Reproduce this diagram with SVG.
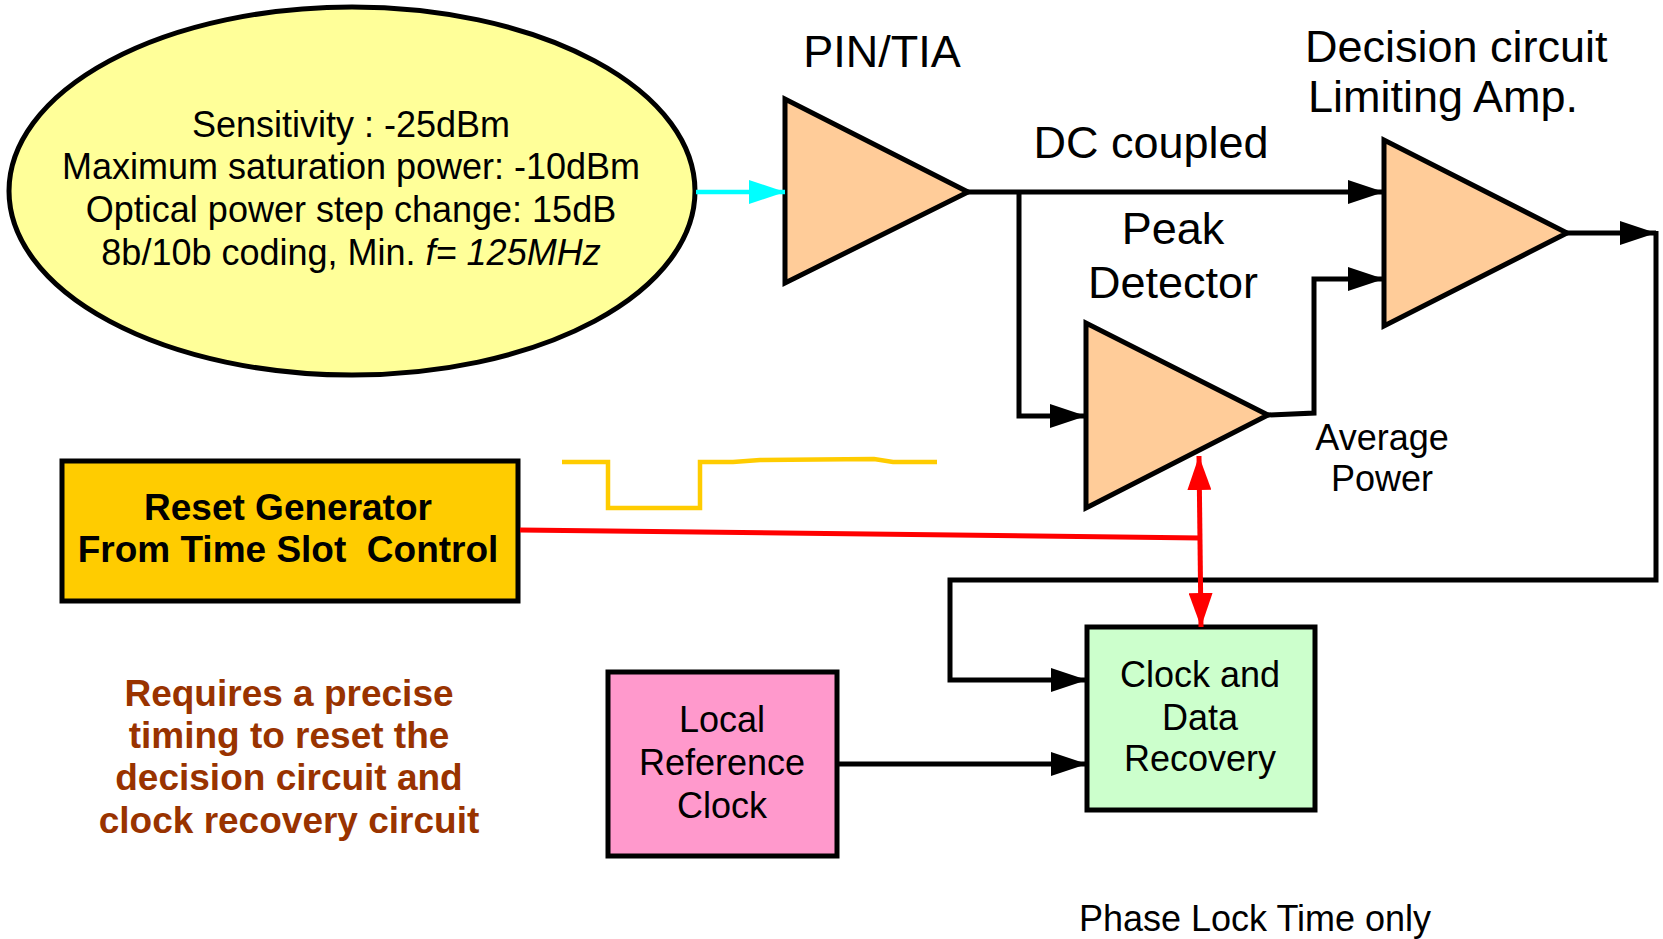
<svg xmlns="http://www.w3.org/2000/svg" width="1663" height="939" viewBox="0 0 1663 939">
<style>
text{font-family:"Liberation Sans",Arial,sans-serif;fill:#000}
.big{font-size:45px}
.mid{font-size:36px}
.bold{font-weight:bold;font-size:37px}
.brown{fill:#993300}
.amp{fill:#FFCC99;stroke:#000;stroke-width:5;stroke-linejoin:miter}
.box{stroke:#000;stroke-width:5}
.wire{fill:none;stroke:#000;stroke-width:5}
.red{fill:none;stroke:#FF0000;stroke-width:5}
</style>
<defs>
<marker id="ah" markerUnits="userSpaceOnUse" markerWidth="36" markerHeight="24" refX="36" refY="12" orient="auto">
<path d="M0,0 L36,12 L0,24 z" fill="#000"/>
</marker>
<marker id="ahc" markerUnits="userSpaceOnUse" markerWidth="36" markerHeight="24" refX="36" refY="12" orient="auto">
<path d="M0,0 L36,12 L0,24 z" fill="#00FFFF"/>
</marker>
<marker id="ahr" markerUnits="userSpaceOnUse" markerWidth="34" markerHeight="24" refX="34" refY="12" orient="auto">
<path d="M0,0 L34,12 L0,24 z" fill="#FF0000"/>
</marker>
<marker id="ahrs" markerUnits="userSpaceOnUse" markerWidth="34" markerHeight="24" refX="0" refY="12" orient="auto">
<path d="M34,0 L0,12 L34,24 z" fill="#FF0000"/>
</marker>
</defs>

<g id="specs">
<ellipse cx="352" cy="191" rx="343" ry="184" fill="#FFFF99" stroke="#000" stroke-width="5"/>
<text class="mid" x="351" y="137" text-anchor="middle">Sensitivity : -25dBm</text>
<text class="mid" x="351" y="179" text-anchor="middle">Maximum saturation power: -10dBm</text>
<text class="mid" x="351" y="222" text-anchor="middle">Optical power step change: 15dB</text>
<text class="mid" x="351" y="265" text-anchor="middle">8b/10b coding, Min. <tspan font-style="italic">f= 125MHz</tspan></text>
</g>

<g id="pin-tia">
<polygon class="amp" points="785,99 785,283 968,192"/>
<text class="big" x="882" y="67" text-anchor="middle">PIN/TIA</text>
</g>

<g id="decision">
<polygon class="amp" points="1384,140 1384,326 1567,233"/>
<text class="big" x="1305" y="62">Decision circuit</text>
<text class="big" x="1308" y="112">Limiting Amp.</text>
</g>

<g id="peak-detector">
<polygon class="amp" points="1086,323 1086,508 1268,415"/>
<text class="big" x="1173" y="244" text-anchor="middle">Peak</text>
<text class="big" x="1173" y="298" text-anchor="middle">Detector</text>
</g>

<g id="reset">
<rect class="box" x="62" y="461" width="456" height="140" fill="#FFCC00"/>
<text class="bold" x="288" y="520" text-anchor="middle">Reset Generator</text>
<text class="bold" x="288" y="562" text-anchor="middle" style="white-space:pre">From Time Slot  Control</text>
</g>

<g id="local-clock">
<rect class="box" x="608" y="672" width="229" height="184" fill="#FF99CC"/>
<text class="mid" x="722" y="732" text-anchor="middle">Local</text>
<text class="mid" x="722" y="775" text-anchor="middle">Reference</text>
<text class="mid" x="722" y="818" text-anchor="middle">Clock</text>
</g>

<g id="cdr">
<rect class="box" x="1087" y="627" width="228" height="183" fill="#CCFFCC"/>
<text class="mid" x="1200" y="687" text-anchor="middle">Clock and</text>
<text class="mid" x="1200" y="730" text-anchor="middle">Data</text>
<text class="mid" x="1200" y="771" text-anchor="middle">Recovery</text>
</g>

<g id="labels">
<text class="big" x="1151" y="158" text-anchor="middle">DC coupled</text>
<text class="mid" x="1382" y="450" text-anchor="middle">Average</text>
<text class="mid" x="1382" y="491" text-anchor="middle">Power</text>
<text class="bold brown" x="289" y="706" text-anchor="middle">Requires a precise</text>
<text class="bold brown" x="289" y="748" text-anchor="middle">timing to reset the</text>
<text class="bold brown" x="289" y="790" text-anchor="middle">decision circuit and</text>
<text class="bold brown" x="289" y="833" text-anchor="middle">clock recovery circuit</text>
<text class="mid" x="1255" y="931" text-anchor="middle">Phase Lock Time only</text>
</g>

<g id="reset-waveform">
<path d="M562,462 L608,462 L608,508 L700,508 L700,462 L733,462 L760,460 L874,459 L893,462 L937,462" fill="none" stroke="#FFCC00" stroke-width="4.5"/>
</g>

<g id="connectors">
<path d="M696,192 L785,192" fill="none" stroke="#00FFFF" stroke-width="4.5" marker-end="url(#ahc)"/>
<path class="wire" d="M968,192 L1384,192" marker-end="url(#ah)"/>
<path class="wire" d="M1019,192 L1019,416 L1086,416" marker-end="url(#ah)"/>
<path class="wire" d="M1268,415 L1314,413 L1314,279 L1384,279" marker-end="url(#ah)"/>
<path class="wire" d="M1567,233 L1656,233" marker-end="url(#ah)"/>
<path class="wire" d="M1656,231 L1656,580 L950,580 L950,680 L1087,680" marker-end="url(#ah)"/>
<path class="wire" d="M837,764 L1087,764" marker-end="url(#ah)"/>
<path class="red" d="M520,530 L1201,538"/>
<path class="red" d="M1199,456 L1201,627" marker-start="url(#ahrs)" marker-end="url(#ahr)"/>
</g>
</svg>
